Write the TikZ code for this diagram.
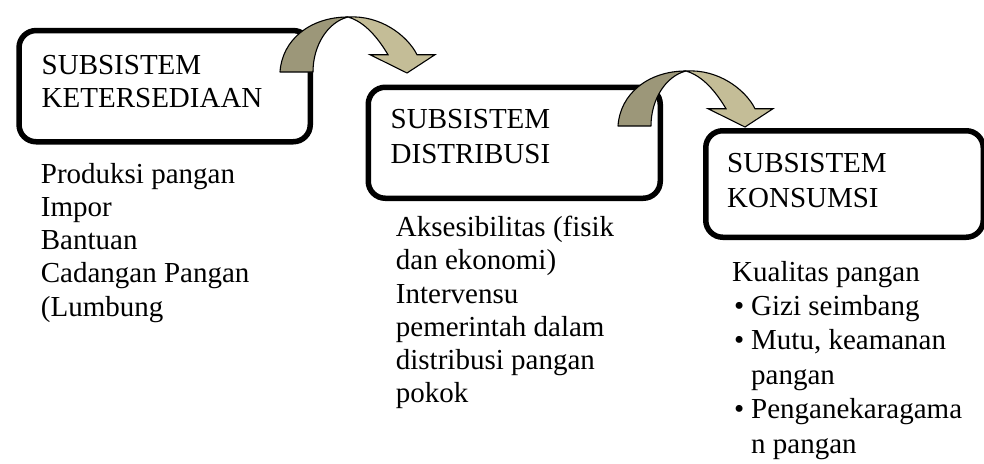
\documentclass[tikz,border=0pt]{standalone}
\usepackage{fontspec}
\setmainfont{Liberation Serif}
\definecolor{arrdark}{HTML}{9C9779}
\definecolor{arrlight}{HTML}{C4BD97}
\tikzset{
  sysbox/.style={draw=black, line width=5.5pt, rounded corners=17pt, fill=white,
                 rectangle, inner sep=0pt, anchor=north west},
  boxtxt/.style 2 args={anchor=base west, inner sep=0pt, text width=#1, align=flush left,
                 font=\fontsize{29}{#2}\selectfont},
  darkpart/.style={fill=arrdark, draw=black, line width=1.1pt, line join=round},
  lightpart/.style={fill=arrlight, draw=black, line width=1.1pt, line join=miter},
}
\begin{document}
\begin{tikzpicture}[x=1pt,y=-1pt]
\useasboundingbox (0,0) rectangle (984,463);
% boxes
\node[sysbox, minimum width=291.2pt, minimum height=111.2pt] (b1) at (16.3,27.8) {};
\node[sysbox, minimum width=292pt, minimum height=111pt] (b2) at (365.5,84.5) {};
\node[sysbox, minimum width=277.5pt, minimum height=106.5pt] (b3) at (703,128) {};
% curved arrows
\foreach \dx/\dy/\nm in {0/0/a1, 338/54/a2}{
  \begin{scope}[shift={(\dx,\dy)}]
    \coordinate (\nm top) at (348,17);
    \draw[darkpart] (280,72) .. controls (282,40) and (310,17) .. (\nm top)
       .. controls (328,22) and (313,45) .. (313,72) -- cycle;
    \draw[lightpart] (\nm top) .. controls (380,15) and (407,35) .. (417,54.7)
       -- (435,54.7) -- (407,73) -- (370,54.7) -- (388,54.7)
       .. controls (378,38) and (365,22) .. (\nm top) -- cycle;
  \end{scope}
}
% titles
\node[boxtxt={250pt}{33.3pt}] (t1) at (41.5,74) {SUBSISTEM\\KETERSEDIAAN};
\node[boxtxt={250pt}{35pt}] (t2) at (390.5,128.5) {SUBSISTEM\\DISTRIBUSI};
\node[boxtxt={240pt}{35pt}] (t3) at (727,172) {SUBSISTEM\\KONSUMSI};
% descriptions
\node[boxtxt={260pt}{33.3pt}] (d1) at (40.7,183) {Produksi pangan\\Impor\\Bantuan\\Cadangan Pangan\\(Lumbung};
\node[boxtxt={260pt}{33.2pt}] (d2) at (395.7,236.7) {Aksesibilitas (fisik\\dan ekonomi)\\Intervensu\\pemerintah dalam\\distribusi pangan\\pokok};
\node[boxtxt={250pt}{34.4pt}] (d3) at (732,281) {Kualitas pangan\\
\hspace*{2pt}\makebox[17pt][l]{•}Gizi seimbang\\
\hspace*{2pt}\makebox[17pt][l]{•}Mutu, keamanan\\
\hspace*{19pt}pangan\\
\hspace*{2pt}\makebox[17pt][l]{•}Penganekaragama\\
\hspace*{19pt}n pangan};
\end{tikzpicture}
\end{document}
